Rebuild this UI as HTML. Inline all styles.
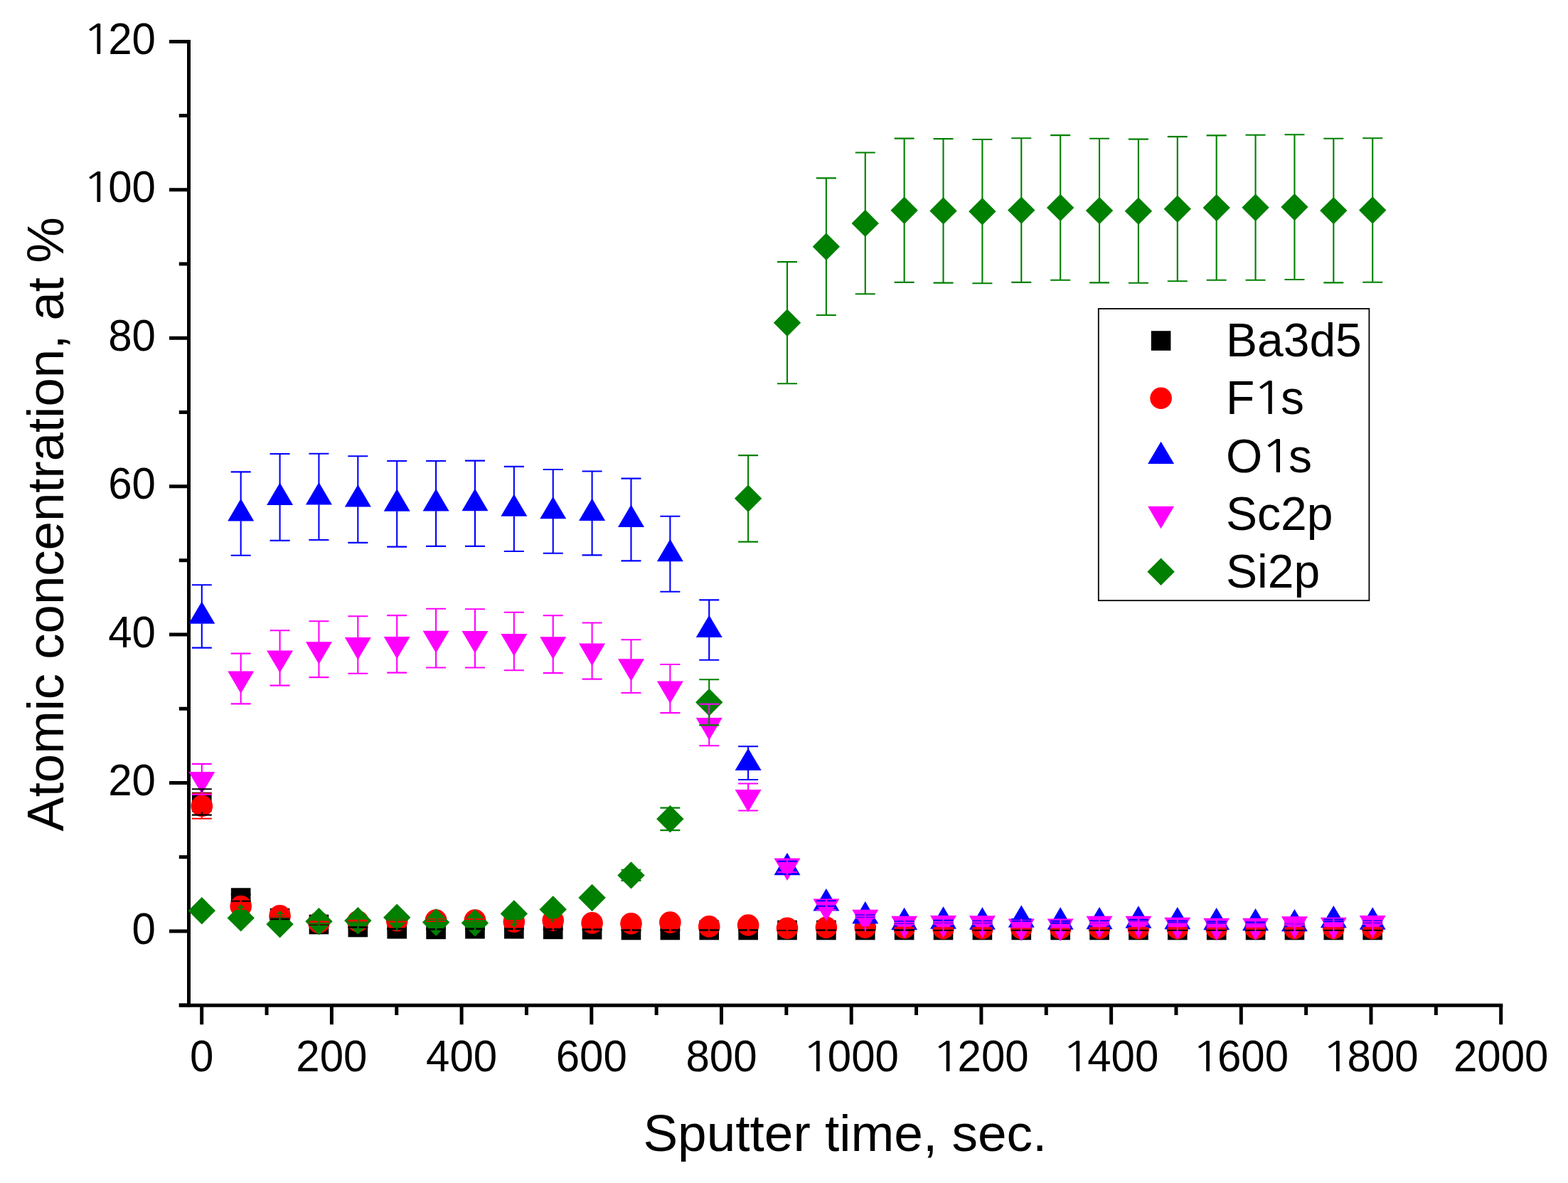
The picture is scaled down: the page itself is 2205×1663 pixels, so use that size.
<!DOCTYPE html>
<html><head><meta charset="utf-8"><title>Atomic concentration vs sputter time</title>
<style>
html,body{margin:0;padding:0;background:#fff;}
body{width:2205px;height:1663px;overflow:hidden;}
svg{display:block;}
text{font-family:"Liberation Sans",Arial,sans-serif;fill:#000;}
</style></head>
<body>
<svg width="2205" height="1663" viewBox="0 0 2205 1663">
<rect width="2205" height="1663" fill="#fff"/>
<path d="M265.5 56.0V1415.7" stroke="#000" stroke-width="5.0" fill="none"/>
<path d="M251.8 1413.2H2113.3" stroke="#000" stroke-width="5.0" fill="none"/>
<path d="M238.00 1308.90H265.5M238.00 1100.48H265.5M238.00 892.06H265.5M238.00 683.64H265.5M238.00 475.22H265.5M238.00 266.80H265.5M238.00 58.38H265.5M251.80 1413.11H265.5M251.80 1204.69H265.5M251.80 996.27H265.5M251.80 787.85H265.5M251.80 579.43H265.5M251.80 371.01H265.5M251.80 162.59H265.5M283.70 1413.2V1440.20M466.40 1413.2V1440.20M649.10 1413.2V1440.20M831.80 1413.2V1440.20M1014.50 1413.2V1440.20M1197.20 1413.2V1440.20M1379.90 1413.2V1440.20M1562.60 1413.2V1440.20M1745.30 1413.2V1440.20M1928.00 1413.2V1440.20M2110.70 1413.2V1440.20M375.05 1413.2V1426.90M557.75 1413.2V1426.90M740.45 1413.2V1426.90M923.15 1413.2V1426.90M1105.85 1413.2V1426.90M1288.55 1413.2V1426.90M1471.25 1413.2V1426.90M1653.95 1413.2V1426.90M1836.65 1413.2V1426.90M2019.35 1413.2V1426.90" stroke="#000" stroke-width="5.0" fill="none"/>
<g font-size="60"><text transform="translate(185.53 1326.50) scale(1 1.04)"><tspan x="0.00">0</tspan></text><text transform="translate(152.16 1118.08) scale(1 1.04)"><tspan x="0.00">20</tspan></text><text transform="translate(152.16 909.66) scale(1 1.04)"><tspan x="0.00">40</tspan></text><text transform="translate(152.16 701.24) scale(1 1.04)"><tspan x="0.00">60</tspan></text><text transform="translate(152.16 492.82) scale(1 1.04)"><tspan x="0.00">80</tspan></text><text transform="translate(118.79 284.40) scale(1 1.04)"><tspan x="-3.36" font-family="NanumGothic,&quot;Liberation Sans&quot;,sans-serif" font-size="55.81" textLength="42.24" lengthAdjust="spacingAndGlyphs">1</tspan><tspan x="33.37">00</tspan></text><text transform="translate(118.79 75.98) scale(1 1.04)"><tspan x="-3.36" font-family="NanumGothic,&quot;Liberation Sans&quot;,sans-serif" font-size="55.81" textLength="42.24" lengthAdjust="spacingAndGlyphs">1</tspan><tspan x="33.37">20</tspan></text><text transform="translate(267.02 1505.90) scale(1 1.04)"><tspan x="0.00">0</tspan></text><text transform="translate(416.35 1505.90) scale(1 1.04)"><tspan x="0.00">200</tspan></text><text transform="translate(599.05 1505.90) scale(1 1.04)"><tspan x="0.00">400</tspan></text><text transform="translate(781.75 1505.90) scale(1 1.04)"><tspan x="0.00">600</tspan></text><text transform="translate(964.45 1505.90) scale(1 1.04)"><tspan x="0.00">800</tspan></text><text transform="translate(1130.46 1505.90) scale(1 1.04)"><tspan x="-3.36" font-family="NanumGothic,&quot;Liberation Sans&quot;,sans-serif" font-size="55.81" textLength="42.24" lengthAdjust="spacingAndGlyphs">1</tspan><tspan x="33.37">000</tspan></text><text transform="translate(1313.16 1505.90) scale(1 1.04)"><tspan x="-3.36" font-family="NanumGothic,&quot;Liberation Sans&quot;,sans-serif" font-size="55.81" textLength="42.24" lengthAdjust="spacingAndGlyphs">1</tspan><tspan x="33.37">200</tspan></text><text transform="translate(1495.86 1505.90) scale(1 1.04)"><tspan x="-3.36" font-family="NanumGothic,&quot;Liberation Sans&quot;,sans-serif" font-size="55.81" textLength="42.24" lengthAdjust="spacingAndGlyphs">1</tspan><tspan x="33.37">400</tspan></text><text transform="translate(1678.56 1505.90) scale(1 1.04)"><tspan x="-3.36" font-family="NanumGothic,&quot;Liberation Sans&quot;,sans-serif" font-size="55.81" textLength="42.24" lengthAdjust="spacingAndGlyphs">1</tspan><tspan x="33.37">600</tspan></text><text transform="translate(1861.26 1505.90) scale(1 1.04)"><tspan x="-3.36" font-family="NanumGothic,&quot;Liberation Sans&quot;,sans-serif" font-size="55.81" textLength="42.24" lengthAdjust="spacingAndGlyphs">1</tspan><tspan x="33.37">800</tspan></text><text transform="translate(2043.96 1505.90) scale(1 1.04)"><tspan x="0.00">2000</tspan></text></g>
<text transform="translate(904.4 1618.2)" font-size="73">Sputter time, sec.</text><text transform="translate(89.3 1168.75) rotate(-90)" font-size="72.6">Atomic concentration, at %</text>
<g fill="#000000"><rect x="270.00" y="1113.70" width="27.6" height="27.6"/><rect x="324.88" y="1248.30" width="27.6" height="27.6"/><rect x="379.76" y="1276.80" width="27.6" height="27.6"/><rect x="434.64" y="1285.70" width="27.6" height="27.6"/><rect x="489.52" y="1289.70" width="27.6" height="27.6"/><rect x="544.40" y="1292.00" width="27.6" height="27.6"/><rect x="599.28" y="1292.60" width="27.6" height="27.6"/><rect x="654.16" y="1292.00" width="27.6" height="27.6"/><rect x="709.04" y="1292.00" width="27.6" height="27.6"/><rect x="763.92" y="1292.60" width="27.6" height="27.6"/><rect x="818.80" y="1292.90" width="27.6" height="27.6"/><rect x="873.68" y="1293.70" width="27.6" height="27.6"/><rect x="928.56" y="1293.70" width="27.6" height="27.6"/><rect x="983.44" y="1293.70" width="27.6" height="27.6"/><rect x="1038.32" y="1293.70" width="27.6" height="27.6"/><rect x="1093.20" y="1293.70" width="27.6" height="27.6"/><rect x="1148.08" y="1293.70" width="27.6" height="27.6"/><rect x="1202.96" y="1293.70" width="27.6" height="27.6"/><rect x="1257.84" y="1293.70" width="27.6" height="27.6"/><rect x="1312.72" y="1293.70" width="27.6" height="27.6"/><rect x="1367.60" y="1293.70" width="27.6" height="27.6"/><rect x="1422.48" y="1293.70" width="27.6" height="27.6"/><rect x="1477.36" y="1293.70" width="27.6" height="27.6"/><rect x="1532.24" y="1293.70" width="27.6" height="27.6"/><rect x="1587.12" y="1293.70" width="27.6" height="27.6"/><rect x="1642.00" y="1293.70" width="27.6" height="27.6"/><rect x="1696.88" y="1293.70" width="27.6" height="27.6"/><rect x="1751.76" y="1293.70" width="27.6" height="27.6"/><rect x="1806.64" y="1293.70" width="27.6" height="27.6"/><rect x="1861.52" y="1293.70" width="27.6" height="27.6"/><rect x="1916.40" y="1293.70" width="27.6" height="27.6"/></g>
<g fill="#ff0000"><circle cx="283.80" cy="1133.00" r="15.3"/><circle cx="338.68" cy="1274.00" r="15.3"/><circle cx="393.56" cy="1287.40" r="15.3"/><circle cx="448.44" cy="1297.00" r="15.3"/><circle cx="503.32" cy="1295.20" r="15.3"/><circle cx="558.20" cy="1294.30" r="15.3"/><circle cx="613.08" cy="1293.60" r="15.3"/><circle cx="667.96" cy="1293.60" r="15.3"/><circle cx="722.84" cy="1295.80" r="15.3"/><circle cx="777.72" cy="1293.80" r="15.3"/><circle cx="832.60" cy="1297.40" r="15.3"/><circle cx="887.48" cy="1298.20" r="15.3"/><circle cx="942.36" cy="1296.60" r="15.3"/><circle cx="997.24" cy="1302.40" r="15.3"/><circle cx="1052.12" cy="1300.50" r="15.3"/><circle cx="1107.00" cy="1304.80" r="15.3"/><circle cx="1161.88" cy="1303.80" r="15.3"/><circle cx="1216.76" cy="1303.80" r="15.3"/><circle cx="1271.64" cy="1304.30" r="15.3"/><circle cx="1326.52" cy="1305.00" r="15.3"/><circle cx="1381.40" cy="1305.00" r="15.3"/><circle cx="1436.28" cy="1305.00" r="15.3"/><circle cx="1491.16" cy="1305.00" r="15.3"/><circle cx="1546.04" cy="1305.00" r="15.3"/><circle cx="1600.92" cy="1305.00" r="15.3"/><circle cx="1655.80" cy="1305.00" r="15.3"/><circle cx="1710.68" cy="1305.00" r="15.3"/><circle cx="1765.56" cy="1305.00" r="15.3"/><circle cx="1820.44" cy="1305.00" r="15.3"/><circle cx="1875.32" cy="1305.00" r="15.3"/><circle cx="1930.20" cy="1305.00" r="15.3"/></g>
<g fill="#0000ff"><path d="M283.80 845.47L302.30 876.87L265.30 876.87Z"/><path d="M338.68 701.07L357.18 732.47L320.18 732.47Z"/><path d="M393.56 678.57L412.06 709.97L375.06 709.97Z"/><path d="M448.44 678.07L466.94 709.47L429.94 709.47Z"/><path d="M503.32 681.17L521.82 712.57L484.82 712.57Z"/><path d="M558.20 687.37L576.70 718.77L539.70 718.77Z"/><path d="M613.08 687.07L631.58 718.47L594.58 718.47Z"/><path d="M667.96 686.77L686.46 718.17L649.46 718.17Z"/><path d="M722.84 694.47L741.34 725.87L704.34 725.87Z"/><path d="M777.72 697.97L796.22 729.37L759.22 729.37Z"/><path d="M832.60 700.57L851.10 731.97L814.10 731.97Z"/><path d="M887.48 709.57L905.98 740.97L868.98 740.97Z"/><path d="M942.36 757.87L960.86 789.27L923.86 789.27Z"/><path d="M997.24 864.67L1015.74 896.07L978.74 896.07Z"/><path d="M1052.12 1051.67L1070.62 1083.07L1033.62 1083.07Z"/><path d="M1107.00 1198.87L1125.50 1230.27L1088.50 1230.27Z"/><path d="M1161.88 1249.07L1180.38 1280.47L1143.38 1280.47Z"/><path d="M1216.76 1267.07L1235.26 1298.47L1198.26 1298.47Z"/><path d="M1271.64 1275.87L1290.14 1307.27L1253.14 1307.27Z"/><path d="M1326.52 1274.37L1345.02 1305.77L1308.02 1305.77Z"/><path d="M1381.40 1275.27L1399.90 1306.67L1362.90 1306.67Z"/><path d="M1436.28 1272.47L1454.78 1303.87L1417.78 1303.87Z"/><path d="M1491.16 1275.27L1509.66 1306.67L1472.66 1306.67Z"/><path d="M1546.04 1274.97L1564.54 1306.37L1527.54 1306.37Z"/><path d="M1600.92 1273.37L1619.42 1304.77L1582.42 1304.77Z"/><path d="M1655.80 1274.97L1674.30 1306.37L1637.30 1306.37Z"/><path d="M1710.68 1275.97L1729.18 1307.37L1692.18 1307.37Z"/><path d="M1765.56 1276.97L1784.06 1308.37L1747.06 1308.37Z"/><path d="M1820.44 1277.97L1838.94 1309.37L1801.94 1309.37Z"/><path d="M1875.32 1272.97L1893.82 1304.37L1856.82 1304.37Z"/><path d="M1930.20 1275.37L1948.70 1306.77L1911.70 1306.77Z"/></g>
<g fill="#ff00ff"><path d="M283.80 1116.33L302.30 1084.93L265.30 1084.93Z"/><path d="M338.68 974.93L357.18 943.53L320.18 943.53Z"/><path d="M393.56 945.83L412.06 914.43L375.06 914.43Z"/><path d="M448.44 933.63L466.94 902.23L429.94 902.23Z"/><path d="M503.32 927.43L521.82 896.03L484.82 896.03Z"/><path d="M558.20 926.33L576.70 894.93L539.70 894.93Z"/><path d="M613.08 918.03L631.58 886.63L594.58 886.63Z"/><path d="M667.96 918.33L686.46 886.93L649.46 886.93Z"/><path d="M722.84 922.43L741.34 891.03L704.34 891.03Z"/><path d="M777.72 926.63L796.22 895.23L759.22 895.23Z"/><path d="M832.60 935.93L851.10 904.53L814.10 904.53Z"/><path d="M887.48 957.63L905.98 926.23L868.98 926.23Z"/><path d="M942.36 988.93L960.86 957.53L923.86 957.53Z"/><path d="M997.24 1040.43L1015.74 1009.03L978.74 1009.03Z"/><path d="M1052.12 1141.43L1070.62 1110.03L1033.62 1110.03Z"/><path d="M1107.00 1237.93L1125.50 1206.53L1088.50 1206.53Z"/><path d="M1161.88 1294.93L1180.38 1263.53L1143.38 1263.53Z"/><path d="M1216.76 1310.13L1235.26 1278.73L1198.26 1278.73Z"/><path d="M1271.64 1319.23L1290.14 1287.83L1253.14 1287.83Z"/><path d="M1326.52 1318.43L1345.02 1287.03L1308.02 1287.03Z"/><path d="M1381.40 1318.73L1399.90 1287.33L1362.90 1287.33Z"/><path d="M1436.28 1322.93L1454.78 1291.53L1417.78 1291.53Z"/><path d="M1491.16 1322.93L1509.66 1291.53L1472.66 1291.53Z"/><path d="M1546.04 1319.03L1564.54 1287.63L1527.54 1287.63Z"/><path d="M1600.92 1319.03L1619.42 1287.63L1582.42 1287.63Z"/><path d="M1655.80 1321.03L1674.30 1289.63L1637.30 1289.63Z"/><path d="M1710.68 1322.03L1729.18 1290.63L1692.18 1290.63Z"/><path d="M1765.56 1322.03L1784.06 1290.63L1747.06 1290.63Z"/><path d="M1820.44 1319.63L1838.94 1288.23L1801.94 1288.23Z"/><path d="M1875.32 1321.03L1893.82 1289.63L1856.82 1289.63Z"/><path d="M1930.20 1318.43L1948.70 1287.03L1911.70 1287.03Z"/></g>
<g fill="#008000"><path d="M283.80 1261.10L303.00 1280.30L283.80 1299.50L264.60 1280.30Z"/><path d="M338.68 1271.20L357.88 1290.40L338.68 1309.60L319.48 1290.40Z"/><path d="M393.56 1280.00L412.76 1299.20L393.56 1318.40L374.36 1299.20Z"/><path d="M448.44 1276.10L467.64 1295.30L448.44 1314.50L429.24 1295.30Z"/><path d="M503.32 1275.10L522.52 1294.30L503.32 1313.50L484.12 1294.30Z"/><path d="M558.20 1270.60L577.40 1289.80L558.20 1309.00L539.00 1289.80Z"/><path d="M613.08 1277.30L632.28 1296.50L613.08 1315.70L593.88 1296.50Z"/><path d="M667.96 1278.20L687.16 1297.40L667.96 1316.60L648.76 1297.40Z"/><path d="M722.84 1265.20L742.04 1284.40L722.84 1303.60L703.64 1284.40Z"/><path d="M777.72 1259.20L796.92 1278.40L777.72 1297.60L758.52 1278.40Z"/><path d="M832.60 1242.80L851.80 1262.00L832.60 1281.20L813.40 1262.00Z"/><path d="M887.48 1211.20L906.68 1230.40L887.48 1249.60L868.28 1230.40Z"/><path d="M942.36 1132.10L961.56 1151.30L942.36 1170.50L923.16 1151.30Z"/><path d="M997.24 968.10L1016.44 987.30L997.24 1006.50L978.04 987.30Z"/><path d="M1052.12 681.60L1071.32 700.80L1052.12 720.00L1032.92 700.80Z"/><path d="M1107.00 434.60L1126.20 453.80L1107.00 473.00L1087.80 453.80Z"/><path d="M1161.88 327.50L1181.08 346.70L1161.88 365.90L1142.68 346.70Z"/><path d="M1216.76 294.70L1235.96 313.90L1216.76 333.10L1197.56 313.90Z"/><path d="M1271.64 276.60L1290.84 295.80L1271.64 315.00L1252.44 295.80Z"/><path d="M1326.52 277.20L1345.72 296.40L1326.52 315.60L1307.32 296.40Z"/><path d="M1381.40 278.00L1400.60 297.20L1381.40 316.40L1362.20 297.20Z"/><path d="M1436.28 276.40L1455.48 295.60L1436.28 314.80L1417.08 295.60Z"/><path d="M1491.16 272.70L1510.36 291.90L1491.16 311.10L1471.96 291.90Z"/><path d="M1546.04 276.90L1565.24 296.10L1546.04 315.30L1526.84 296.10Z"/><path d="M1600.92 277.50L1620.12 296.70L1600.92 315.90L1581.72 296.70Z"/><path d="M1655.80 274.50L1675.00 293.70L1655.80 312.90L1636.60 293.70Z"/><path d="M1710.68 272.90L1729.88 292.10L1710.68 311.30L1691.48 292.10Z"/><path d="M1765.56 272.60L1784.76 291.80L1765.56 311.00L1746.36 291.80Z"/><path d="M1820.44 271.90L1839.64 291.10L1820.44 310.30L1801.24 291.10Z"/><path d="M1875.32 276.90L1894.52 296.10L1875.32 315.30L1856.12 296.10Z"/><path d="M1930.20 276.30L1949.40 295.50L1930.20 314.70L1911.00 295.50Z"/></g>
<path fill="none" stroke="#000000" stroke-width="2.1" d="M269.80 1109.30H282.75M284.85 1109.30H297.80M269.80 1145.60H282.75M284.85 1145.60H297.80M283.80 1108.25V1113.70M283.80 1141.30V1146.65M324.68 1257.50H337.63M339.73 1257.50H352.68M324.68 1266.70H337.63M339.73 1266.70H352.68M379.56 1289.10H392.51M394.61 1289.10H407.56M379.56 1292.10H392.51M394.61 1292.10H407.56M434.44 1299.20H447.39M449.49 1299.20H462.44M434.44 1299.80H447.39M449.49 1299.80H462.44M489.32 1303.20H502.27M504.37 1303.20H517.32M489.32 1303.80H502.27M504.37 1303.80H517.32M544.20 1305.50H557.15M559.25 1305.50H572.20M544.20 1306.10H557.15M559.25 1306.10H572.20M599.08 1306.10H612.03M614.13 1306.10H627.08M599.08 1306.70H612.03M614.13 1306.70H627.08M653.96 1305.50H666.91M669.01 1305.50H681.96M653.96 1306.10H666.91M669.01 1306.10H681.96M708.84 1305.50H721.79M723.89 1305.50H736.84M708.84 1306.10H721.79M723.89 1306.10H736.84M763.72 1306.10H776.67M778.77 1306.10H791.72M763.72 1306.70H776.67M778.77 1306.70H791.72M818.60 1306.40H831.55M833.65 1306.40H846.60M818.60 1307.00H831.55M833.65 1307.00H846.60M873.48 1307.20H886.43M888.53 1307.20H901.48M873.48 1307.80H886.43M888.53 1307.80H901.48M928.36 1307.20H941.31M943.41 1307.20H956.36M928.36 1307.80H941.31M943.41 1307.80H956.36M983.24 1307.20H996.19M998.29 1307.20H1011.24M983.24 1307.80H996.19M998.29 1307.80H1011.24M1038.12 1307.20H1051.07M1053.17 1307.20H1066.12M1038.12 1307.80H1051.07M1053.17 1307.80H1066.12M1093.00 1307.20H1105.95M1108.05 1307.20H1121.00M1093.00 1307.80H1105.95M1108.05 1307.80H1121.00M1147.88 1307.20H1160.83M1162.93 1307.20H1175.88M1147.88 1307.80H1160.83M1162.93 1307.80H1175.88M1202.76 1307.20H1215.71M1217.81 1307.20H1230.76M1202.76 1307.80H1215.71M1217.81 1307.80H1230.76M1257.64 1307.20H1270.59M1272.69 1307.20H1285.64M1257.64 1307.80H1270.59M1272.69 1307.80H1285.64M1312.52 1307.20H1325.47M1327.57 1307.20H1340.52M1312.52 1307.80H1325.47M1327.57 1307.80H1340.52M1367.40 1307.20H1380.35M1382.45 1307.20H1395.40M1367.40 1307.80H1380.35M1382.45 1307.80H1395.40M1422.28 1307.20H1435.23M1437.33 1307.20H1450.28M1422.28 1307.80H1435.23M1437.33 1307.80H1450.28M1477.16 1307.20H1490.11M1492.21 1307.20H1505.16M1477.16 1307.80H1490.11M1492.21 1307.80H1505.16M1532.04 1307.20H1544.99M1547.09 1307.20H1560.04M1532.04 1307.80H1544.99M1547.09 1307.80H1560.04M1586.92 1307.20H1599.87M1601.97 1307.20H1614.92M1586.92 1307.80H1599.87M1601.97 1307.80H1614.92M1641.80 1307.20H1654.75M1656.85 1307.20H1669.80M1641.80 1307.80H1654.75M1656.85 1307.80H1669.80M1696.68 1307.20H1709.63M1711.73 1307.20H1724.68M1696.68 1307.80H1709.63M1711.73 1307.80H1724.68M1751.56 1307.20H1764.51M1766.61 1307.20H1779.56M1751.56 1307.80H1764.51M1766.61 1307.80H1779.56M1806.44 1307.20H1819.39M1821.49 1307.20H1834.44M1806.44 1307.80H1819.39M1821.49 1307.80H1834.44M1861.32 1307.20H1874.27M1876.37 1307.20H1889.32M1861.32 1307.80H1874.27M1876.37 1307.80H1889.32M1916.20 1307.20H1929.15M1931.25 1307.20H1944.20M1916.20 1307.80H1929.15M1931.25 1307.80H1944.20"/>
<path fill="none" stroke="#ff0000" stroke-width="2.1" d="M269.80 1115.60H282.75M284.85 1115.60H297.80M269.80 1150.70H282.75M284.85 1150.70H297.80M283.80 1114.55V1118.20M283.80 1147.80V1151.75M324.68 1270.20H337.63M339.73 1270.20H352.68M324.68 1277.80H337.63M339.73 1277.80H352.68M379.56 1286.00H392.51M394.61 1286.00H407.56M379.56 1288.80H392.51M394.61 1288.80H407.56M434.44 1295.60H447.39M449.49 1295.60H462.44M434.44 1298.40H447.39M449.49 1298.40H462.44M489.32 1293.80H502.27M504.37 1293.80H517.32M489.32 1296.60H502.27M504.37 1296.60H517.32M544.20 1292.90H557.15M559.25 1292.90H572.20M544.20 1295.70H557.15M559.25 1295.70H572.20M599.08 1292.20H612.03M614.13 1292.20H627.08M599.08 1295.00H612.03M614.13 1295.00H627.08M653.96 1292.20H666.91M669.01 1292.20H681.96M653.96 1295.00H666.91M669.01 1295.00H681.96M708.84 1294.40H721.79M723.89 1294.40H736.84M708.84 1297.20H721.79M723.89 1297.20H736.84M763.72 1292.40H776.67M778.77 1292.40H791.72M763.72 1295.20H776.67M778.77 1295.20H791.72M818.60 1296.00H831.55M833.65 1296.00H846.60M818.60 1298.80H831.55M833.65 1298.80H846.60M873.48 1296.80H886.43M888.53 1296.80H901.48M873.48 1299.60H886.43M888.53 1299.60H901.48M928.36 1295.20H941.31M943.41 1295.20H956.36M928.36 1298.00H941.31M943.41 1298.00H956.36M983.24 1301.00H996.19M998.29 1301.00H1011.24M983.24 1303.80H996.19M998.29 1303.80H1011.24M1038.12 1299.10H1051.07M1053.17 1299.10H1066.12M1038.12 1301.90H1051.07M1053.17 1301.90H1066.12M1093.00 1303.40H1105.95M1108.05 1303.40H1121.00M1093.00 1306.20H1105.95M1108.05 1306.20H1121.00M1147.88 1302.40H1160.83M1162.93 1302.40H1175.88M1147.88 1305.20H1160.83M1162.93 1305.20H1175.88M1202.76 1303.20H1215.71M1217.81 1303.20H1230.76M1202.76 1304.40H1215.71M1217.81 1304.40H1230.76M1257.64 1303.70H1270.59M1272.69 1303.70H1285.64M1257.64 1304.90H1270.59M1272.69 1304.90H1285.64M1312.52 1304.40H1325.47M1327.57 1304.40H1340.52M1312.52 1305.60H1325.47M1327.57 1305.60H1340.52M1367.40 1304.40H1380.35M1382.45 1304.40H1395.40M1367.40 1305.60H1380.35M1382.45 1305.60H1395.40M1422.28 1304.40H1435.23M1437.33 1304.40H1450.28M1422.28 1305.60H1435.23M1437.33 1305.60H1450.28M1477.16 1304.40H1490.11M1492.21 1304.40H1505.16M1477.16 1305.60H1490.11M1492.21 1305.60H1505.16M1532.04 1304.40H1544.99M1547.09 1304.40H1560.04M1532.04 1305.60H1544.99M1547.09 1305.60H1560.04M1586.92 1304.40H1599.87M1601.97 1304.40H1614.92M1586.92 1305.60H1599.87M1601.97 1305.60H1614.92M1641.80 1304.40H1654.75M1656.85 1304.40H1669.80M1641.80 1305.60H1654.75M1656.85 1305.60H1669.80M1696.68 1304.40H1709.63M1711.73 1304.40H1724.68M1696.68 1305.60H1709.63M1711.73 1305.60H1724.68M1751.56 1304.40H1764.51M1766.61 1304.40H1779.56M1751.56 1305.60H1764.51M1766.61 1305.60H1779.56M1806.44 1304.40H1819.39M1821.49 1304.40H1834.44M1806.44 1305.60H1819.39M1821.49 1305.60H1834.44M1861.32 1304.40H1874.27M1876.37 1304.40H1889.32M1861.32 1305.60H1874.27M1876.37 1305.60H1889.32M1916.20 1304.40H1929.15M1931.25 1304.40H1944.20M1916.20 1305.60H1929.15M1931.25 1305.60H1944.20"/>
<path fill="none" stroke="#0000ff" stroke-width="2.1" d="M269.80 822.30H282.75M284.85 822.30H297.80M269.80 910.60H282.75M284.85 910.60H297.80M283.80 821.25V848.47M283.80 876.57V911.65M324.68 663.40H337.63M339.73 663.40H352.68M324.68 780.70H337.63M339.73 780.70H352.68M338.68 662.35V704.07M338.68 732.17V781.75M379.56 638.00H392.51M394.61 638.00H407.56M379.56 759.90H392.51M394.61 759.90H407.56M393.56 636.95V681.57M393.56 709.67V760.95M434.44 637.80H447.39M449.49 637.80H462.44M434.44 759.00H447.39M449.49 759.00H462.44M448.44 636.75V681.07M448.44 709.17V760.05M489.32 641.30H502.27M504.37 641.30H517.32M489.32 762.90H502.27M504.37 762.90H517.32M503.32 640.25V684.17M503.32 712.27V763.95M544.20 648.00H557.15M559.25 648.00H572.20M544.20 768.60H557.15M559.25 768.60H572.20M558.20 646.95V690.37M558.20 718.47V769.65M599.08 648.00H612.03M614.13 648.00H627.08M599.08 767.90H612.03M614.13 767.90H627.08M613.08 646.95V690.07M613.08 718.17V768.95M653.96 647.60H666.91M669.01 647.60H681.96M653.96 767.90H666.91M669.01 767.90H681.96M667.96 646.55V689.77M667.96 717.87V768.95M708.84 655.90H721.79M723.89 655.90H736.84M708.84 775.00H721.79M723.89 775.00H736.84M722.84 654.85V697.47M722.84 725.57V776.05M763.72 660.00H776.67M778.77 660.00H791.72M763.72 777.70H776.67M778.77 777.70H791.72M777.72 658.95V700.97M777.72 729.07V778.75M818.60 662.50H831.55M833.65 662.50H846.60M818.60 780.40H831.55M833.65 780.40H846.60M832.60 661.45V703.57M832.60 731.67V781.45M873.48 672.60H886.43M888.53 672.60H901.48M873.48 788.40H886.43M888.53 788.40H901.48M887.48 671.55V712.57M887.48 740.67V789.45M928.36 725.80H941.31M943.41 725.80H956.36M928.36 831.70H941.31M943.41 831.70H956.36M942.36 724.75V760.87M942.36 788.97V832.75M983.24 843.40H996.19M998.29 843.40H1011.24M983.24 927.80H996.19M998.29 927.80H1011.24M997.24 842.35V867.67M997.24 895.77V928.85M1038.12 1049.20H1051.07M1053.17 1049.20H1066.12M1038.12 1096.00H1051.07M1053.17 1096.00H1066.12M1052.12 1048.15V1054.67M1052.12 1082.77V1097.05M1093.00 1210.70H1105.95M1108.05 1210.70H1121.00M1093.00 1228.90H1105.95M1108.05 1228.90H1121.00M1147.88 1266.30H1160.83M1162.93 1266.30H1175.88M1147.88 1273.70H1160.83M1162.93 1273.70H1175.88M1202.76 1286.60H1215.71M1217.81 1286.60H1230.76M1202.76 1289.40H1215.71M1217.81 1289.40H1230.76M1257.64 1295.40H1270.59M1272.69 1295.40H1285.64M1257.64 1298.20H1270.59M1272.69 1298.20H1285.64M1312.52 1293.90H1325.47M1327.57 1293.90H1340.52M1312.52 1296.70H1325.47M1327.57 1296.70H1340.52M1367.40 1294.80H1380.35M1382.45 1294.80H1395.40M1367.40 1297.60H1380.35M1382.45 1297.60H1395.40M1422.28 1292.00H1435.23M1437.33 1292.00H1450.28M1422.28 1294.80H1435.23M1437.33 1294.80H1450.28M1477.16 1294.80H1490.11M1492.21 1294.80H1505.16M1477.16 1297.60H1490.11M1492.21 1297.60H1505.16M1532.04 1294.50H1544.99M1547.09 1294.50H1560.04M1532.04 1297.30H1544.99M1547.09 1297.30H1560.04M1586.92 1292.90H1599.87M1601.97 1292.90H1614.92M1586.92 1295.70H1599.87M1601.97 1295.70H1614.92M1641.80 1294.50H1654.75M1656.85 1294.50H1669.80M1641.80 1297.30H1654.75M1656.85 1297.30H1669.80M1696.68 1295.50H1709.63M1711.73 1295.50H1724.68M1696.68 1298.30H1709.63M1711.73 1298.30H1724.68M1751.56 1296.50H1764.51M1766.61 1296.50H1779.56M1751.56 1299.30H1764.51M1766.61 1299.30H1779.56M1806.44 1297.50H1819.39M1821.49 1297.50H1834.44M1806.44 1300.30H1819.39M1821.49 1300.30H1834.44M1861.32 1292.50H1874.27M1876.37 1292.50H1889.32M1861.32 1295.30H1874.27M1876.37 1295.30H1889.32M1916.20 1294.90H1929.15M1931.25 1294.90H1944.20M1916.20 1297.70H1929.15M1931.25 1297.70H1944.20"/>
<path fill="none" stroke="#ff00ff" stroke-width="2.1" d="M269.80 1073.90H282.75M284.85 1073.90H297.80M269.80 1116.90H282.75M284.85 1116.90H297.80M283.80 1072.85V1085.23M283.80 1113.33V1117.95M324.68 918.60H337.63M339.73 918.60H352.68M324.68 989.40H337.63M339.73 989.40H352.68M338.68 917.55V943.83M338.68 971.93V990.45M379.56 886.30H392.51M394.61 886.30H407.56M379.56 963.60H392.51M394.61 963.60H407.56M393.56 885.25V914.73M393.56 942.83V964.65M434.44 873.30H447.39M449.49 873.30H462.44M434.44 952.10H447.39M449.49 952.10H462.44M448.44 872.25V902.53M448.44 930.63V953.15M489.32 866.20H502.27M504.37 866.20H517.32M489.32 946.70H502.27M504.37 946.70H517.32M503.32 865.15V896.33M503.32 924.43V947.75M544.20 865.10H557.15M559.25 865.10H572.20M544.20 945.60H557.15M559.25 945.60H572.20M558.20 864.05V895.23M558.20 923.33V946.65M599.08 855.80H612.03M614.13 855.80H627.08M599.08 938.50H612.03M614.13 938.50H627.08M613.08 854.75V886.93M613.08 915.03V939.55M653.96 856.20H666.91M669.01 856.20H681.96M653.96 938.50H666.91M669.01 938.50H681.96M667.96 855.15V887.23M667.96 915.33V939.55M708.84 860.70H721.79M723.89 860.70H736.84M708.84 942.20H721.79M723.89 942.20H736.84M722.84 859.65V891.33M722.84 919.43V943.25M763.72 865.20H776.67M778.77 865.20H791.72M763.72 946.10H776.67M778.77 946.10H791.72M777.72 864.15V895.53M777.72 923.63V947.15M818.60 875.50H831.55M833.65 875.50H846.60M818.60 954.60H831.55M833.65 954.60H846.60M832.60 874.45V904.83M832.60 932.93V955.65M873.48 899.30H886.43M888.53 899.30H901.48M873.48 974.00H886.43M888.53 974.00H901.48M887.48 898.25V926.53M887.48 954.63V975.05M928.36 934.00H941.31M943.41 934.00H956.36M928.36 1002.10H941.31M943.41 1002.10H956.36M942.36 932.95V957.83M942.36 985.93V1003.15M983.24 989.80H996.19M998.29 989.80H1011.24M983.24 1048.20H996.19M998.29 1048.20H1011.24M997.24 988.75V1009.33M997.24 1037.43V1049.25M1038.12 1101.50H1051.07M1053.17 1101.50H1066.12M1038.12 1139.50H1051.07M1053.17 1139.50H1066.12M1052.12 1100.45V1110.33M1052.12 1138.43V1140.55M1093.00 1208.00H1105.95M1108.05 1208.00H1121.00M1093.00 1226.00H1105.95M1108.05 1226.00H1121.00M1147.88 1269.00H1160.83M1162.93 1269.00H1175.88M1147.88 1279.00H1160.83M1162.93 1279.00H1175.88M1202.76 1287.70H1215.71M1217.81 1287.70H1230.76M1202.76 1290.70H1215.71M1217.81 1290.70H1230.76M1257.64 1296.80H1270.59M1272.69 1296.80H1285.64M1257.64 1299.80H1270.59M1272.69 1299.80H1285.64M1312.52 1296.00H1325.47M1327.57 1296.00H1340.52M1312.52 1299.00H1325.47M1327.57 1299.00H1340.52M1367.40 1296.30H1380.35M1382.45 1296.30H1395.40M1367.40 1299.30H1380.35M1382.45 1299.30H1395.40M1422.28 1300.50H1435.23M1437.33 1300.50H1450.28M1422.28 1303.50H1435.23M1437.33 1303.50H1450.28M1477.16 1300.50H1490.11M1492.21 1300.50H1505.16M1477.16 1303.50H1490.11M1492.21 1303.50H1505.16M1532.04 1296.60H1544.99M1547.09 1296.60H1560.04M1532.04 1299.60H1544.99M1547.09 1299.60H1560.04M1586.92 1296.60H1599.87M1601.97 1296.60H1614.92M1586.92 1299.60H1599.87M1601.97 1299.60H1614.92M1641.80 1298.60H1654.75M1656.85 1298.60H1669.80M1641.80 1301.60H1654.75M1656.85 1301.60H1669.80M1696.68 1299.60H1709.63M1711.73 1299.60H1724.68M1696.68 1302.60H1709.63M1711.73 1302.60H1724.68M1751.56 1299.60H1764.51M1766.61 1299.60H1779.56M1751.56 1302.60H1764.51M1766.61 1302.60H1779.56M1806.44 1297.20H1819.39M1821.49 1297.20H1834.44M1806.44 1300.20H1819.39M1821.49 1300.20H1834.44M1861.32 1298.60H1874.27M1876.37 1298.60H1889.32M1861.32 1301.60H1874.27M1876.37 1301.60H1889.32M1916.20 1296.00H1929.15M1931.25 1296.00H1944.20M1916.20 1299.00H1929.15M1931.25 1299.00H1944.20"/>
<path fill="none" stroke="#008000" stroke-width="2.1" d="M269.80 1277.30H282.75M284.85 1277.30H297.80M269.80 1283.30H282.75M284.85 1283.30H297.80M324.68 1287.40H337.63M339.73 1287.40H352.68M324.68 1293.40H337.63M339.73 1293.40H352.68M379.56 1296.20H392.51M394.61 1296.20H407.56M379.56 1302.20H392.51M394.61 1302.20H407.56M434.44 1292.30H447.39M449.49 1292.30H462.44M434.44 1298.30H447.39M449.49 1298.30H462.44M489.32 1291.30H502.27M504.37 1291.30H517.32M489.32 1297.30H502.27M504.37 1297.30H517.32M544.20 1286.80H557.15M559.25 1286.80H572.20M544.20 1292.80H557.15M559.25 1292.80H572.20M599.08 1293.50H612.03M614.13 1293.50H627.08M599.08 1299.50H612.03M614.13 1299.50H627.08M653.96 1294.40H666.91M669.01 1294.40H681.96M653.96 1300.40H666.91M669.01 1300.40H681.96M708.84 1281.40H721.79M723.89 1281.40H736.84M708.84 1287.40H721.79M723.89 1287.40H736.84M763.72 1275.40H776.67M778.77 1275.40H791.72M763.72 1281.40H776.67M778.77 1281.40H791.72M818.60 1259.00H831.55M833.65 1259.00H846.60M818.60 1265.00H831.55M833.65 1265.00H846.60M873.48 1222.70H886.43M888.53 1222.70H901.48M873.48 1237.90H886.43M888.53 1237.90H901.48M928.36 1135.60H941.31M943.41 1135.60H956.36M928.36 1167.10H941.31M943.41 1167.10H956.36M983.24 955.20H996.19M998.29 955.20H1011.24M983.24 1019.40H996.19M998.29 1019.40H1011.24M997.24 954.15V971.10M997.24 1003.50V1020.45M1038.12 640.10H1051.07M1053.17 640.10H1066.12M1038.12 761.60H1051.07M1053.17 761.60H1066.12M1052.12 639.05V684.60M1052.12 717.00V762.65M1093.00 368.10H1105.95M1108.05 368.10H1121.00M1093.00 539.30H1105.95M1108.05 539.30H1121.00M1107.00 367.05V437.60M1107.00 470.00V540.35M1147.88 250.40H1160.83M1162.93 250.40H1175.88M1147.88 443.05H1160.83M1162.93 443.05H1175.88M1161.88 249.35V330.50M1161.88 362.90V444.10M1202.76 214.50H1215.71M1217.81 214.50H1230.76M1202.76 413.30H1215.71M1217.81 413.30H1230.76M1216.76 213.45V297.70M1216.76 330.10V414.35M1257.64 194.60H1270.59M1272.69 194.60H1285.64M1257.64 396.90H1270.59M1272.69 396.90H1285.64M1271.64 193.55V279.60M1271.64 312.00V397.95M1312.52 195.10H1325.47M1327.57 195.10H1340.52M1312.52 397.60H1325.47M1327.57 397.60H1340.52M1326.52 194.05V280.20M1326.52 312.60V398.65M1367.40 196.00H1380.35M1382.45 196.00H1395.40M1367.40 398.30H1380.35M1382.45 398.30H1395.40M1381.40 194.95V281.00M1381.40 313.40V399.35M1422.28 194.20H1435.23M1437.33 194.20H1450.28M1422.28 396.90H1435.23M1437.33 396.90H1450.28M1436.28 193.15V279.40M1436.28 311.80V397.95M1477.16 190.10H1490.11M1492.21 190.10H1505.16M1477.16 393.70H1490.11M1492.21 393.70H1505.16M1491.16 189.05V275.70M1491.16 308.10V394.75M1532.04 194.80H1544.99M1547.09 194.80H1560.04M1532.04 397.40H1544.99M1547.09 397.40H1560.04M1546.04 193.75V279.90M1546.04 312.30V398.45M1586.92 195.60H1599.87M1601.97 195.60H1614.92M1586.92 397.80H1599.87M1601.97 397.80H1614.92M1600.92 194.55V280.50M1600.92 312.90V398.85M1641.80 192.10H1654.75M1656.85 192.10H1669.80M1641.80 395.30H1654.75M1656.85 395.30H1669.80M1655.80 191.05V277.50M1655.80 309.90V396.35M1696.68 190.40H1709.63M1711.73 190.40H1724.68M1696.68 393.80H1709.63M1711.73 393.80H1724.68M1710.68 189.35V275.90M1710.68 308.30V394.85M1751.56 189.80H1764.51M1766.61 189.80H1779.56M1751.56 393.80H1764.51M1766.61 393.80H1779.56M1765.56 188.75V275.60M1765.56 308.00V394.85M1806.44 189.20H1819.39M1821.49 189.20H1834.44M1806.44 393.00H1819.39M1821.49 393.00H1834.44M1820.44 188.15V274.90M1820.44 307.30V394.05M1861.32 194.80H1874.27M1876.37 194.80H1889.32M1861.32 397.40H1874.27M1876.37 397.40H1889.32M1875.32 193.75V279.90M1875.32 312.30V398.45M1916.20 194.20H1929.15M1931.25 194.20H1944.20M1916.20 396.70H1929.15M1931.25 396.70H1944.20M1930.20 193.15V279.30M1930.20 311.70V397.75"/>
<rect x="1544.8" y="434.0" width="380.6" height="410.2" fill="none" stroke="#000" stroke-width="1.8"/>
<g fill="#000000"><rect x="1618.80" y="465.20" width="27.6" height="27.6"/></g>
<text transform="translate(1724.00 500.80) scale(1 1.02)" font-size="66"><tspan x="0.00">Ba3d5</tspan></text>
<g fill="#ff0000"><circle cx="1632.60" cy="559.80" r="15.3"/></g>
<text transform="translate(1724.00 582.20) scale(1 1.02)" font-size="66"><tspan x="0.00">F</tspan><tspan x="36.62" font-family="NanumGothic,&quot;Liberation Sans&quot;,sans-serif" font-size="62.60" textLength="46.46" lengthAdjust="spacingAndGlyphs">1</tspan><tspan x="77.02">s</tspan></text>
<g fill="#0000ff"><path d="M1632.60 620.67L1651.10 652.07L1614.10 652.07Z"/></g>
<text transform="translate(1724.00 663.60) scale(1 1.02)" font-size="66"><tspan x="0.00">O</tspan><tspan x="47.64" font-family="NanumGothic,&quot;Liberation Sans&quot;,sans-serif" font-size="62.60" textLength="46.46" lengthAdjust="spacingAndGlyphs">1</tspan><tspan x="88.04">s</tspan></text>
<g fill="#ff00ff"><path d="M1632.60 743.23L1651.10 711.83L1614.10 711.83Z"/></g>
<text transform="translate(1724.00 745.00) scale(1 1.02)" font-size="66"><tspan x="0.00">Sc2p</tspan></text>
<g fill="#008000"><path d="M1632.60 784.50L1651.80 803.70L1632.60 822.90L1613.40 803.70Z"/></g>
<text transform="translate(1724.00 826.40) scale(1 1.02)" font-size="66"><tspan x="0.00">Si2p</tspan></text>
</svg>
</body></html>
